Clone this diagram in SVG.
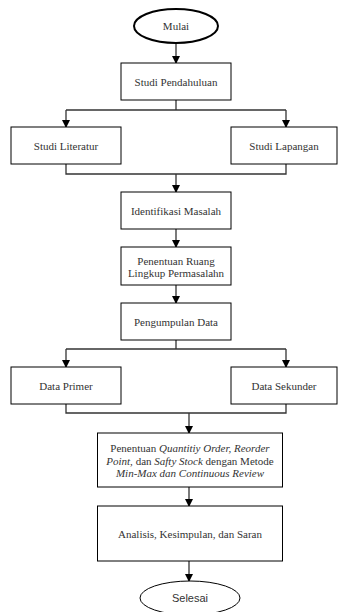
<svg xmlns="http://www.w3.org/2000/svg" width="338" height="612" viewBox="0 0 338 612">
<defs>
<marker id="arr" markerWidth="8" markerHeight="8" refX="7" refY="4" orient="auto" markerUnits="userSpaceOnUse">
<path d="M0,0 L8,4 L0,8 Z" fill="#000"/>
</marker>
<style>
.box{fill:#fff;stroke:#000;stroke-width:1}
.t{font-family:"Liberation Serif","Times New Roman",serif;font-size:11px;fill:#333;text-anchor:middle}
.s{font-family:"Liberation Sans",Arial,sans-serif;font-size:11px;fill:#333;text-anchor:middle}
.c{fill:none;stroke:#333;stroke-width:1.3}
.i{font-style:italic}
</style>
</defs>
<rect width="338" height="612" fill="#fff"/>
<g id="connectors">
<path class="c" d="M176,43 V63" marker-end="url(#arr)"/>
<path class="c" d="M176,100 V110"/>
<path class="c" d="M66,110 H286"/>
<path class="c" d="M66,110 V127" marker-end="url(#arr)"/>
<path class="c" d="M286,110 V127" marker-end="url(#arr)"/>
<path class="c" d="M66,164 V174 H286 V164"/>
<path class="c" d="M176,174 V192" marker-end="url(#arr)"/>
<path class="c" d="M176,229 V247" marker-end="url(#arr)"/>
<path class="c" d="M176,285 V303" marker-end="url(#arr)"/>
<path class="c" d="M176,340 V349"/>
<path class="c" d="M66,349 H286"/>
<path class="c" d="M66,349 V367" marker-end="url(#arr)"/>
<path class="c" d="M286,349 V367" marker-end="url(#arr)"/>
<path class="c" d="M66,404 V413 H286 V404"/>
<path class="c" d="M189,413 V433" marker-end="url(#arr)"/>
<path class="c" d="M189,487 V506" marker-end="url(#arr)"/>
<path class="c" d="M189,561 V581" marker-end="url(#arr)"/>
</g>
<g id="mulai">
<ellipse cx="176" cy="26" rx="42" ry="17" fill="#fff" stroke="#000" stroke-width="2"/>
<text class="t" x="176" y="30">Mulai</text>
</g>
<g id="studi-pendahuluan">
<rect class="box" x="121" y="63" width="110" height="37"/>
<text class="t" x="176" y="85.5">Studi Pendahuluan</text>
</g>
<g id="studi-literatur">
<rect class="box" x="11" y="127" width="110" height="37"/>
<text class="t" x="66" y="149.5">Studi Literatur</text>
</g>
<g id="studi-lapangan">
<rect class="box" x="231" y="127" width="106" height="37"/>
<text class="t" x="284" y="149.5">Studi Lapangan</text>
</g>
<g id="identifikasi-masalah">
<rect class="box" x="121" y="192" width="110" height="37"/>
<text class="t" x="176" y="214.5">Identifikasi Masalah</text>
</g>
<g id="penentuan-ruang">
<rect class="box" x="121" y="247" width="110" height="38"/>
<text class="t" x="176" y="265">Penentuan Ruang</text>
<text class="t" x="176" y="277">Lingkup Permasalahn</text>
</g>
<g id="pengumpulan-data">
<rect class="box" x="121" y="303" width="110" height="37"/>
<text class="t" x="176" y="325.5">Pengumpulan Data</text>
</g>
<g id="data-primer">
<rect class="box" x="11" y="367" width="110" height="37"/>
<text class="t" x="66" y="389.5">Data Primer</text>
</g>
<g id="data-sekunder">
<rect class="box" x="231" y="367" width="106" height="37"/>
<text class="t" x="284" y="389.5">Data Sekunder</text>
</g>
<g id="penentuan-qty">
<rect class="box" x="97.5" y="433" width="185" height="54"/>
<text class="t" x="190" y="452">Penentuan <tspan class="i">Quantitiy Order, Reorder</tspan></text>
<text class="t" x="190" y="464.5"><tspan class="i">Point,</tspan> dan <tspan class="i">Safty Stock</tspan>  dengan Metode</text>
<text class="t i" x="190" y="477">Min-Max dan Continuous Review</text>
</g>
<g id="analisis">
<rect class="box" x="97.5" y="506" width="185" height="55"/>
<text class="t" x="190" y="537.5">Analisis, Kesimpulan, dan Saran</text>
</g>
<g id="selesai">
<ellipse cx="190" cy="598" rx="50" ry="17" fill="#fff" stroke="#000" stroke-width="1"/>
<text class="s" x="190" y="602">Selesai</text>
</g>
</svg>
